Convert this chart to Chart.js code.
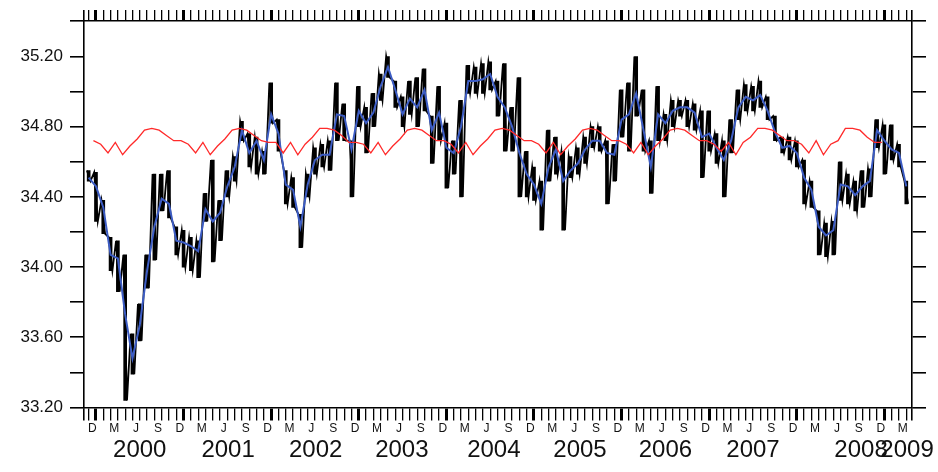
<!DOCTYPE html>
<html>
<head>
<meta charset="utf-8">
<script src="https://cdn.jsdelivr.net/npm/chart.js@4"></script>
<style>
  html, body { margin: 0; padding: 0; background: #fff; }
  canvas { display: block; }
</style>
</head>
<body>
<canvas id="salChart" width="938" height="472"></canvas>
<script>
// months are counted from Jan 2000 (0 = Jan 2000, -1 = Dec 1999)
const firstMonth = -1;

// monthly mean (blue), one value per month from Dec 1999 to Apr 2009
const blueMean = [
  34.51, 34.46, 34.34, 34.07, 34.05, 33.73, 33.48, 33.67, 33.98, 34.23, 34.39, 34.36, 34.15,
  34.14, 34.12, 34.09, 34.33, 34.26, 34.31, 34.46, 34.57, 34.78, 34.65, 34.72, 34.61,
  34.87, 34.76, 34.47, 34.44, 34.23, 34.47, 34.61, 34.64, 34.64, 34.87, 34.86, 34.67,
  34.89, 34.82, 34.88, 35.03, 35.14, 35.01, 34.87, 34.96, 34.91, 35.01, 34.78, 34.88,
  34.68, 34.65, 34.80, 35.06, 35.06, 35.07, 35.10, 34.97, 34.91, 34.80, 34.65, 34.53,
  34.47, 34.36, 34.57, 34.67, 34.49, 34.55, 34.59, 34.67, 34.72, 34.72, 34.65, 34.64,
  34.84, 34.87, 34.99, 34.78, 34.57, 34.87, 34.82, 34.89, 34.91, 34.91, 34.88, 34.74,
  34.76, 34.68, 34.61, 34.72, 34.91, 34.97, 34.95, 34.98, 34.89, 34.77, 34.68, 34.69,
  34.65, 34.51, 34.44, 34.23, 34.18, 34.21, 34.47, 34.46, 34.41, 34.46, 34.49, 34.78,
  34.72, 34.67, 34.65, 34.46
];

// daily record (black): highest and lowest value seen in each month
const blackHigh = [
  34.55, 34.54, 34.38, 34.17, 34.15, 34.07, 33.62, 33.79, 34.07, 34.53, 34.53, 34.55, 34.23,
  34.21, 34.17, 34.15, 34.42, 34.61, 34.38, 34.55, 34.63, 34.83, 34.76, 34.74, 34.66,
  35.05, 34.84, 34.55, 34.51, 34.30, 34.53, 34.68, 34.70, 34.72, 35.05, 34.93, 34.72,
  35.03, 34.91, 34.99, 35.10, 35.20, 35.06, 34.97, 35.06, 35.08, 35.13, 34.86, 35.03,
  34.82, 34.72, 34.95, 35.15, 35.14, 35.16, 35.17, 35.06, 35.16, 34.91, 35.08, 34.66,
  34.57, 34.49, 34.78, 34.74, 34.66, 34.63, 34.68, 34.74, 34.80, 34.80, 34.72, 34.70,
  35.01, 35.05, 35.20, 35.01, 34.72, 35.03, 34.87, 34.95, 34.95, 34.95, 34.93, 34.89,
  34.89, 34.76, 34.72, 34.84, 35.01, 35.04, 35.03, 35.06, 34.97, 34.86, 34.74, 34.74,
  34.72, 34.61, 34.49, 34.32, 34.25, 34.26, 34.60, 34.53, 34.49, 34.55, 34.56, 34.84,
  34.81, 34.81, 34.70, 34.49
];
const blackLow = [
  34.49, 34.26, 34.19, 33.98, 33.86, 33.24, 33.39, 33.58, 33.88, 34.04, 34.32, 34.28, 34.07,
  34.00, 33.98, 33.94, 34.26, 34.03, 34.15, 34.40, 34.49, 34.72, 34.57, 34.53, 34.53,
  34.82, 34.66, 34.36, 34.34, 34.11, 34.40, 34.53, 34.57, 34.55, 34.72, 34.72, 34.40,
  34.80, 34.65, 34.80, 34.95, 35.08, 34.91, 34.80, 34.87, 34.80, 34.89, 34.59, 34.72,
  34.45, 34.53, 34.40, 34.99, 34.99, 34.99, 35.01, 34.86, 34.66, 34.66, 34.40, 34.40,
  34.38, 34.21, 34.49, 34.53, 34.21, 34.51, 34.53, 34.59, 34.68, 34.66, 34.36, 34.49,
  34.74, 34.66, 34.86, 34.66, 34.42, 34.72, 34.72, 34.80, 34.86, 34.80, 34.78, 34.51,
  34.66, 34.59, 34.40, 34.65, 34.84, 34.89, 34.89, 34.91, 34.84, 34.72, 34.65, 34.61,
  34.57, 34.36, 34.34, 34.07, 34.06, 34.07, 34.38, 34.36, 34.32, 34.34, 34.40, 34.68,
  34.53, 34.61, 34.57, 34.36
];

// climatology (red), monthly from Dec 1999 to Dec 2008
const redClim = [
  34.72,
  34.70, 34.65, 34.71, 34.64, 34.69, 34.73, 34.78, 34.79, 34.78, 34.75, 34.72, 34.72,
  34.70, 34.65, 34.71, 34.64, 34.69, 34.73, 34.78, 34.79, 34.78, 34.75, 34.72, 34.71,
  34.71, 34.65, 34.71, 34.64, 34.70, 34.74, 34.79, 34.79, 34.78, 34.75, 34.71, 34.71,
  34.70, 34.65, 34.71, 34.64, 34.69, 34.73, 34.78, 34.79, 34.78, 34.75, 34.72, 34.72,
  34.70, 34.65, 34.71, 34.64, 34.69, 34.73, 34.78, 34.79, 34.78, 34.75, 34.72, 34.72,
  34.70, 34.65, 34.71, 34.64, 34.69, 34.73, 34.78, 34.79, 34.78, 34.75, 34.72, 34.72,
  34.70, 34.65, 34.71, 34.64, 34.69, 34.73, 34.78, 34.79, 34.78, 34.75, 34.72, 34.72,
  34.70, 34.66, 34.71, 34.64, 34.71, 34.74, 34.79, 34.79, 34.78, 34.75, 34.72, 34.72,
  34.70, 34.65, 34.72, 34.64, 34.70, 34.72, 34.79, 34.79, 34.78, 34.74, 34.71, 34.71
];

// axis labels
const monthLetters = ['D', 'M', 'J', 'S'];
const yearLabels = ['2000', '2001', '2002', '2003', '2004', '2005', '2006', '2007', '2008', '2009'];
const yearLabelPos = [6.0, 18.1, 30.1, 41.9, 54.5, 66.3, 78.0, 90.0, 104.8, 111.1];

const X_MIN = -1.64, X_MAX = 111.78;
const Y_MIN = 33.2, Y_MAX = 35.402;
const FONT = "'Liberation Sans', Arial, sans-serif";

// build point lists
const bluePts = blueMean.map((v, i) => ({ x: firstMonth + i, y: v }));
const blackPts = [];
blackHigh.forEach((h, i) => {
  blackPts.push({ x: firstMonth + i - 0.25, y: h });
  blackPts.push({ x: firstMonth + i + 0.25, y: blackLow[i] });
});
const blackRange = blackHigh.map((h, i) => ({ x: firstMonth + i, y: [blackLow[i], h] }));
const redPts = redClim.map((v, i) => ({ x: firstMonth + i + 0.65, y: v }));

// tick helpers
function monthBoundaryTicks(axis) {
  const t = [{ value: X_MIN }];
  for (let m = firstMonth; m <= 111; m++) t.push({ value: m });
  t.push({ value: X_MAX });
  axis.ticks = t;
}
function yTicks(axis) {
  const t = [];
  for (let k = 0; k <= 10; k++) t.push({ value: +(33.2 + k * 0.2).toFixed(1) });
  t.push({ value: Y_MAX });
  axis.ticks = t;
}
function monthTickWidth(ctx) {
  const v = ctx.tick ? ctx.tick.value : null;
  if (v === X_MIN || v === X_MAX) return 1.6;
  return (Number.isInteger(v) && ((v % 12) + 12) % 12 === 0) ? 3 : 1.3;
}

const ctx = document.getElementById('salChart').getContext('2d');
const salChart = new Chart(ctx, {
  type: 'line',
  data: {
    datasets: [
      { label: 'climatology', data: redPts, borderColor: '#ff2a2a', borderWidth: 1.3, pointRadius: 0, order: 1 },
      { label: 'monthly mean', data: bluePts, borderColor: '#3c5cc4', borderWidth: 2, pointRadius: 0, order: 2 },
      { label: 'daily', data: blackPts, borderColor: '#000', borderWidth: 1.8, pointRadius: 0, order: 3 },
      { type: 'bar', label: 'daily range', data: blackRange, backgroundColor: '#000', borderWidth: 0,
        barThickness: 3, order: 4 }
    ]
  },
  options: {
    responsive: false,
    animation: false,
    devicePixelRatio: 1,
    layout: { padding: 0 },
    plugins: { legend: { display: false }, tooltip: { enabled: false } },
    elements: { line: { tension: 0 } },
    scales: {
      x: {
        type: 'linear', position: 'bottom', min: X_MIN, max: X_MAX, weight: 0, offset: false,
        afterBuildTicks: monthBoundaryTicks,
        afterFit: (a) => { a.height = 13; },
        ticks: { display: false },
        grid: { offset: false, drawOnChartArea: false, drawTicks: true, tickLength: 13, color: '#000', lineWidth: monthTickWidth },
        border: { display: true, color: '#000', width: 1.6 }
      },
      xMon: {
        type: 'linear', position: 'bottom', min: X_MIN, max: X_MAX, weight: 1,
        afterBuildTicks: (a) => {
          const t = [];
          for (let m = firstMonth; m <= 110; m += 3) t.push({ value: m + 0.5 });
          a.ticks = t;
        },
        afterFit: (a) => { a.height = 14; },
        ticks: {
          autoSkip: false, maxRotation: 0, minRotation: 0, padding: 1, color: '#111',
          font: { family: FONT, size: 12 },
          callback: (v, i) => monthLetters[i % 4]
        },
        grid: { display: false, drawTicks: false },
        border: { display: false }
      },
      xYear: {
        type: 'linear', position: 'bottom', min: X_MIN, max: X_MAX, weight: 2,
        afterBuildTicks: (a) => { a.ticks = yearLabelPos.map(v => ({ value: v })); },
        afterFit: (a) => { a.height = 37.5; },
        ticks: {
          autoSkip: false, maxRotation: 0, minRotation: 0, padding: 1, color: '#111',
          font: { family: FONT, size: 24 },
          callback: (v, i) => yearLabels[i]
        },
        grid: { display: false, drawTicks: false },
        border: { display: false }
      },
      xTop: {
        type: 'linear', position: 'top', min: X_MIN, max: X_MAX,
        afterBuildTicks: monthBoundaryTicks,
        afterFit: (a) => { a.height = 21; },
        ticks: { display: false },
        grid: { drawOnChartArea: false, drawTicks: true, tickLength: 11, color: '#000', lineWidth: monthTickWidth },
        border: { display: true, color: '#000', width: 1.6 }
      },
      y: {
        type: 'linear', position: 'left', min: Y_MIN, max: Y_MAX,
        afterBuildTicks: yTicks,
        afterFit: (a) => { a.width = 84; },
        ticks: {
          padding: 7, color: '#111', font: { family: FONT, size: 17 },
          callback: (v) => {
            const k = Math.round(v / 0.4);
            return (Math.abs(k * 0.4 - v) < 1e-6 && v < 35.3) ? v.toFixed(2) : '';
          }
        },
        grid: { drawOnChartArea: false, drawTicks: true, tickLength: 14, color: '#000', lineWidth: 1.6 },
        border: { display: true, color: '#000', width: 1.6 }
      },
      yRight: {
        type: 'linear', position: 'right', min: Y_MIN, max: Y_MAX,
        afterBuildTicks: yTicks,
        afterFit: (a) => { a.width = 26; },
        ticks: { display: false },
        grid: { drawOnChartArea: false, drawTicks: true, tickLength: 14, color: '#000', lineWidth: 1.6 },
        border: { display: true, color: '#000', width: 1.6 }
      }
    }
  }
});
</script>
</body>
</html>
